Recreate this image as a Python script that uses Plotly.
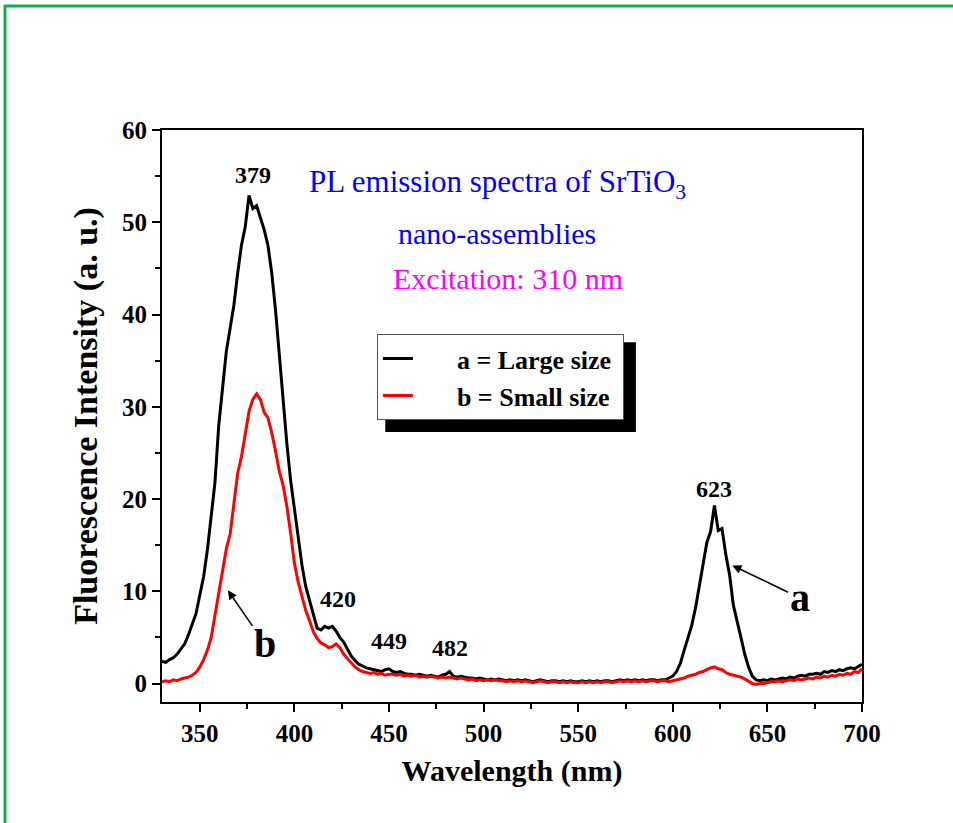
import plotly.graph_objects as go

wavelength = list(range(330, 702, 2))

large_size = [
    2.4, 2.3, 2.6, 2.8, 3.2, 3.7, 4.3, 5.3, 6.4, 7.6,          # 330-348
    9.6, 11.6, 14.5, 18.5, 21.8, 28.0, 32.0, 36.0, 38.5, 41.0,  # 350-368
    44.5, 47.5, 49.5, 52.9, 51.5, 51.8, 50.5, 49.2, 47.5, 44.5, # 370-388
    40.5, 35.5, 31.5, 26.0, 22.0, 18.8, 15.5, 12.8, 10.5, 9.0,  # 390-408
    7.4, 6.0, 5.8, 6.2, 6.0, 6.2, 5.7, 5.0, 4.5, 3.8,           # 410-428
    3.0, 2.5, 2.1, 1.9, 1.7, 1.6, 1.5, 1.4, 1.3, 1.5,           # 430-448
    1.6, 1.3, 1.2, 1.3, 1.1, 1.0, 1.0, 0.9, 1.0, 0.9,           # 450-468
    0.8, 0.9, 0.8, 0.7, 0.9, 1.0, 1.3, 0.8, 0.7, 0.8,           # 470-488
    0.7, 0.6, 0.6, 0.5, 0.6, 0.5, 0.4, 0.5, 0.4, 0.5,           # 490-508
    0.4, 0.3, 0.4, 0.3, 0.4, 0.3, 0.4, 0.3, 0.2, 0.3,           # 510-528
    0.4, 0.3, 0.2, 0.3, 0.3, 0.2, 0.3, 0.2, 0.3, 0.2,           # 530-548
    0.2, 0.3, 0.2, 0.3, 0.2, 0.3, 0.2, 0.3, 0.3, 0.2,           # 550-568
    0.3, 0.4, 0.3, 0.4, 0.3, 0.4, 0.3, 0.4, 0.3, 0.4,           # 570-588
    0.4, 0.3, 0.4, 0.4, 0.6, 0.8, 1.3, 2.2, 3.6, 5.0,           # 590-608
    6.3, 8.2, 10.5, 12.9, 15.3, 16.5, 19.3, 16.6, 16.8, 14.0,   # 610-628
    11.8, 8.5, 6.6, 5.0, 3.2, 1.8, 0.8, 0.4, 0.3, 0.4,          # 630-648
    0.3, 0.5, 0.4, 0.5, 0.6, 0.5, 0.7, 0.6, 0.8, 0.9,           # 650-668
    0.8, 1.0, 1.0, 1.1, 1.0, 1.3, 1.2, 1.4, 1.3, 1.5,           # 670-688
    1.4, 1.6, 1.7, 1.6, 1.9, 2.1,                               # 690-700
]

small_size = [
    0.2, 0.3, 0.2, 0.4, 0.3, 0.5, 0.6, 0.7, 0.9, 1.2,           # 330-348
    1.8, 2.6, 3.6, 5.0, 7.4, 9.8, 12.2, 14.6, 16.2, 19.2,       # 350-368
    22.8, 24.6, 27.0, 29.5, 30.8, 31.4, 30.8, 29.4, 28.8, 27.2, # 370-388
    25.2, 23.0, 21.5, 19.2, 16.3, 13.0, 11.0, 9.3, 7.9, 6.8,    # 390-408
    5.6, 4.9, 4.4, 4.2, 3.9, 4.0, 4.3, 3.9, 3.2, 2.7,           # 410-428
    2.2, 1.8, 1.5, 1.3, 1.2, 1.1, 1.2, 1.0, 1.1, 0.9,           # 430-448
    1.0, 1.0, 0.9, 1.0, 0.8, 0.9, 0.8, 0.9, 0.7, 0.8,           # 450-468
    0.7, 0.8, 0.7, 0.6, 0.7, 0.6, 0.7, 0.6, 0.5, 0.6,           # 470-488
    0.5, 0.4, 0.5, 0.3, 0.4, 0.3, 0.4, 0.3, 0.4, 0.3,           # 490-508
    0.3, 0.2, 0.3, 0.2, 0.3, 0.2, 0.3, 0.2, 0.1, 0.2,           # 510-528
    0.3, 0.2, 0.1, 0.2, 0.2, 0.1, 0.2, 0.1, 0.2, 0.1,           # 530-548
    0.1, 0.2, 0.1, 0.2, 0.1, 0.2, 0.1, 0.2, 0.2, 0.1,           # 550-568
    0.2, 0.3, 0.2, 0.3, 0.2, 0.3, 0.2, 0.3, 0.2, 0.3,           # 570-588
    0.3, 0.2, 0.3, 0.3, 0.2, 0.3, 0.4, 0.5, 0.6, 0.8,           # 590-608
    0.9, 1.0, 1.2, 1.3, 1.5, 1.7, 1.8, 1.6, 1.5, 1.2,           # 610-628
    1.0, 0.9, 0.8, 0.7, 0.5, 0.2, 0.0, -0.1, 0.0, 0.0,          # 630-648
    0.1, 0.2, 0.2, 0.3, 0.2, 0.3, 0.4, 0.3, 0.5, 0.4,           # 650-668
    0.5, 0.6, 0.5, 0.7, 0.6, 0.8, 0.7, 0.9, 0.8, 1.0,           # 670-688
    0.9, 1.1, 1.0, 1.3, 1.2, 1.6,                               # 690-700
]

peak_labels = ["379", "420", "449", "482", "623"]
peak_x = [378, 423, 450, 482, 622]
peak_y = [55.1, 9.2, 4.6, 3.8, 21.1]

FONT = "Liberation Serif, Times New Roman, serif"
NB = "\u00a0"

fig = go.Figure()
fig.add_trace(go.Scatter(x=wavelength, y=large_size, mode="lines",
                         name=NB * 6 + "a = Large size" + NB,
                         line=dict(color="#000000", width=3)))
fig.add_trace(go.Scatter(x=wavelength, y=small_size, mode="lines",
                         name=NB * 6 + "b = Small size" + NB,
                         line=dict(color="#ff0000", width=3)))

annotations = []
for t, x, y in zip(peak_labels, peak_x, peak_y):
    annotations.append(dict(x=x, y=y, xref="x", yref="y", text=t, showarrow=False,
                            font=dict(family=FONT, size=24, color="black", weight="bold")))

# letters a and b, each pointing at its curve
annotations.append(dict(x=631.5, y=12.8, xref="x", yref="y", ax=667, ay=9.3,
                        axref="x", ayref="y", text="a", showarrow=True,
                        arrowhead=2, arrowsize=1.2, arrowwidth=1.5, arrowcolor="black",
                        standoff=0,
                        font=dict(family=FONT, size=40, color="black", weight="bold")))
annotations.append(dict(x=364.8, y=10.1, xref="x", yref="y", ax=384.4, ay=4.3,
                        axref="x", ayref="y", text="b", showarrow=True,
                        arrowhead=2, arrowsize=1.2, arrowwidth=1.5, arrowcolor="black",
                        standoff=0,
                        font=dict(family=FONT, size=40, color="black", weight="bold")))

# inset titles
annotations.append(dict(x=0.479, y=0.944, xref="paper", yref="paper",
                        text="PL emission spectra of SrTiO<sub>3</sub>", showarrow=False,
                        font=dict(family=FONT, size=31, color="#0000ff")))
annotations.append(dict(x=0.479, y=0.851, xref="paper", yref="paper",
                        text="nano-assemblies", showarrow=False,
                        font=dict(family=FONT, size=30, color="#0000ff")))
annotations.append(dict(x=0.494, y=0.773, xref="paper", yref="paper",
                        text="Excitation: 310 nm", showarrow=False,
                        font=dict(family=FONT, size=30, color="#ff00ff")))

shapes = [
    # green frame around the whole picture
    dict(type="rect", xref="paper", yref="paper", x0=-0.2243, x1=1.5, y0=-0.5, y1=1.2168,
         line=dict(color="#11b04f", width=3), fillcolor="rgba(0,0,0,0)", layer="below"),
    # legend shadow
    dict(type="rect", xref="paper", yref="paper", x0=0.319, x1=0.677, y0=0.472, y1=0.629,
         line=dict(width=0), fillcolor="black", layer="above"),
]

fig.update_layout(
    width=953, height=823,
    margin=dict(l=162, r=91, t=130, b=121),
    paper_bgcolor="white", plot_bgcolor="white",
    showlegend=True,
    legend=dict(x=0.307, y=0.643, xanchor="left", yanchor="top",
                bgcolor="white", bordercolor="#555555", borderwidth=1,
                font=dict(family=FONT, size=26, color="black", weight="bold")),
    annotations=annotations,
    shapes=shapes,
    font=dict(family=FONT, color="black"),
)

fig.update_xaxes(
    range=[330, 700], tickmode="array", tickvals=[350, 400, 450, 500, 550, 600, 650, 700],
    ticks="outside", ticklen=8, tickwidth=2, tickcolor="black",
    minor=dict(tickvals=[375, 425, 475, 525, 575, 625, 675], ticks="outside", ticklen=5,
               tickwidth=2, tickcolor="black"),
    showline=True, linecolor="black", linewidth=2, mirror=True,
    showgrid=False, zeroline=False,
    tickfont=dict(family=FONT, size=25, color="black", weight="bold"),
    title=dict(text="Wavelength (nm)", standoff=14,
               font=dict(family=FONT, size=30, color="black", weight="bold")),
)
fig.update_yaxes(
    range=[-2, 60], tickmode="array", tickvals=[0, 10, 20, 30, 40, 50, 60],
    ticks="outside", ticklen=8, tickwidth=2, tickcolor="black",
    minor=dict(tickvals=[5, 15, 25, 35, 45, 55], ticks="outside", ticklen=5,
               tickwidth=2, tickcolor="black"),
    showline=True, linecolor="black", linewidth=2, mirror=True,
    showgrid=False, zeroline=False,
    tickfont=dict(family=FONT, size=25, color="black", weight="bold"),
    title=dict(text="Fluorescence Intensity (a. u.)", standoff=14,
               font=dict(family=FONT, size=34, color="black", weight="bold")),
)

fig.write_html("out.html")
